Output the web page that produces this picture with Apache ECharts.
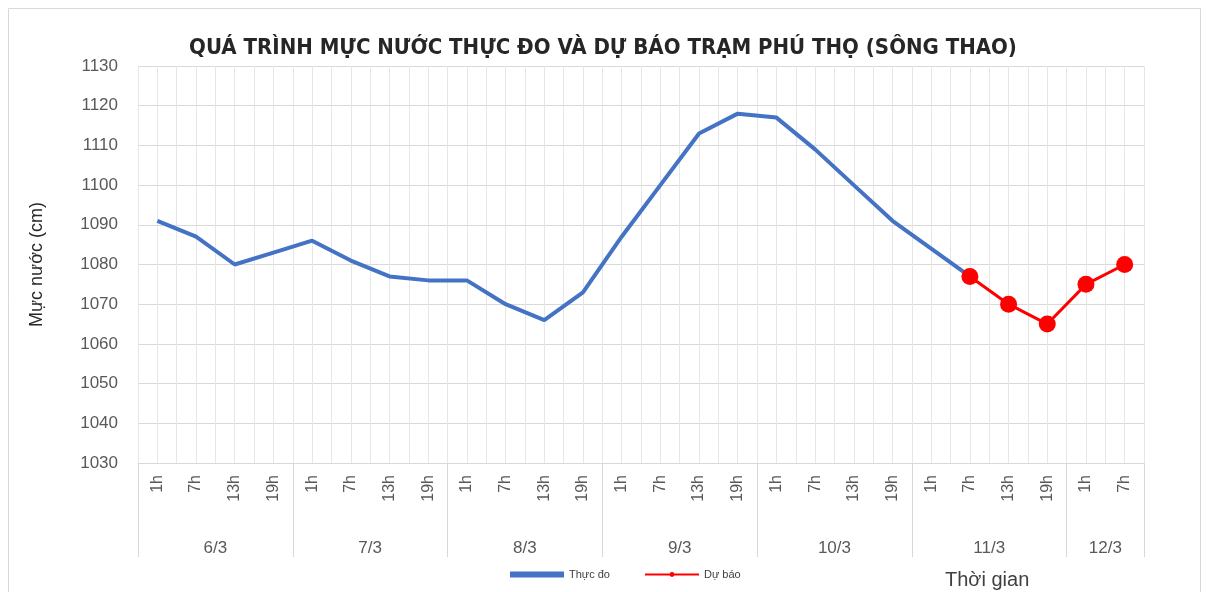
<!DOCTYPE html>
<html>
<head>
<meta charset="utf-8">
<script src="https://cdn.jsdelivr.net/npm/echarts@6/dist/echarts.min.js"></script>
<style>
  html, body { margin: 0; padding: 0; background: #fff; }
  #main { width: 1206px; height: 592px; }
</style>
</head>
<body>
<div id="main"></div>
<script>
// trục thời gian: giờ trong ngày
let hours = ['1h', '7h', '13h', '19h', '1h', '7h', '13h', '19h', '1h', '7h', '13h', '19h',
    '1h', '7h', '13h', '19h', '1h', '7h', '13h', '19h', '1h', '7h', '13h', '19h', '1h', '7h']
// nhãn ngày, đặt ở giữa mỗi nhóm giờ
let days = ['6/3', '7/3', '8/3', '9/3', '10/3', '11/3', '12/3']
let dayCenters = [2, 6, 10, 14, 18, 22, 25]
let dayStarts = [0, 4, 8, 12, 16, 20, 24]

// mực nước thực đo (cm)
let thucDo = [1091, 1087, 1080, 1083, 1086, 1081, 1077, 1076, 1076, 1070, 1066, 1073,
    1087, 1100, 1113, 1118, 1117, 1109, 1100, 1091, 1084, 1077, '-', '-', '-', '-']
// mực nước dự báo (cm)
let duBao = ['-', '-', '-', '-', '-', '-', '-', '-', '-', '-', '-', '-',
    '-', '-', '-', '-', '-', '-', '-', '-', '-', 1077, 1070, 1065, 1075, 1080]

let yTicks = [1030, 1130, 10]

let myChart = echarts.init(document.getElementById('main'))

let gridColor = '#d9d9d9'
let textColor = '#595959'
let font = 'Liberation Sans'

let option = {
    animation: false,
    title: [
        {
            text: 'QUÁ TRÌNH MỰC NƯỚC THỰC ĐO VÀ DỰ BÁO TRẠM PHÚ THỌ (SÔNG THAO)',
            left: 'center',
            top: 32,
            textStyle: {
                fontFamily: 'Liberation Sans Narrow, DejaVu Sans Condensed, sans-serif',
                fontSize: 22,
                fontWeight: 'bold',
                color: '#262626'
            }
        },
        {
            text: 'Thời gian',
            left: 940,
            top: 565,
            textStyle: { fontFamily: font, fontSize: 20, fontWeight: 'normal', color: '#404040' }
        }
    ],
    legend: {
        bottom: 7,
        left: 505,
        itemWidth: 54,
        itemHeight: 6,
        itemGap: 34,
        textStyle: { fontFamily: font, fontSize: 11, color: '#404040' },
        data: [
            { name: 'Thực đo', icon: 'rect', itemStyle: { color: '#4472C4' } },
            { name: 'Dự báo' }
        ]
    },
    grid: { left: 138, right: 62, top: 66, bottom: 129 },
    xAxis: [
        {
            type: 'category',
            data: hours,
            boundaryGap: true,
            axisLine: { show: true, lineStyle: { color: gridColor } },
            axisTick: {
                show: true,
                length: 94,
                interval: function (index) {
                    return dayStarts.indexOf(index) >= 0
                },
                lineStyle: { color: gridColor }
            },
            axisLabel: {
                interval: 0,
                rotate: 90,
                margin: 12,
                fontFamily: font,
                fontSize: 16,
                color: textColor
            },
            splitLine: { show: false }
        },
        {
            type: 'value',
            min: 0,
            max: 26,
            interval: 0.5,
            position: 'bottom',
            axisLine: { show: false },
            axisTick: { show: false },
            axisLabel: {
                margin: 77,
                fontFamily: font,
                fontSize: 17,
                color: textColor,
                showMinLabel: true,
                showMaxLabel: true,
                formatter: function (v) {
                    let i = dayCenters.indexOf(v)
                    return i >= 0 ? days[i] : ''
                }
            },
            splitLine: { show: true, lineStyle: { color: '#e6e6e6' } }
        }
    ],
    yAxis: {
        type: 'value',
        min: yTicks[0],
        max: yTicks[1],
        interval: yTicks[2],
        name: 'Mực nước (cm)',
        nameLocation: 'middle',
        nameRotate: 90,
        nameGap: 92,
        nameTextStyle: { fontFamily: font, fontSize: 18, color: '#262626' },
        axisLine: { show: false },
        axisTick: { show: false },
        axisLabel: {
            fontFamily: font,
            fontSize: 17,
            color: textColor,
            margin: 20,
            formatter: function (v) { return String(v) }
        },
        splitLine: { show: true, lineStyle: { color: gridColor } }
    },
    graphic: [
        {
            type: 'rect',
            shape: { x: 8.5, y: 8.5, width: 1192, height: 590 },
            style: { fill: 'none', stroke: '#d9d9d9', lineWidth: 1 },
            silent: true
        }
    ],
    series: [
        {
            name: 'Thực đo',
            type: 'line',
            xAxisIndex: 0,
            data: thucDo,
            symbol: 'none',
            lineStyle: { color: '#4472C4', width: 4 },
            itemStyle: { color: '#4472C4' },
            z: 2
        },
        {
            name: 'Dự báo',
            type: 'line',
            xAxisIndex: 0,
            data: duBao,
            symbol: 'circle',
            symbolSize: 17,
            lineStyle: { color: '#FF0000', width: 3 },
            itemStyle: { color: '#FF0000' },
            z: 3
        }
    ]
}

myChart.setOption(option)
</script>
</body>
</html>
